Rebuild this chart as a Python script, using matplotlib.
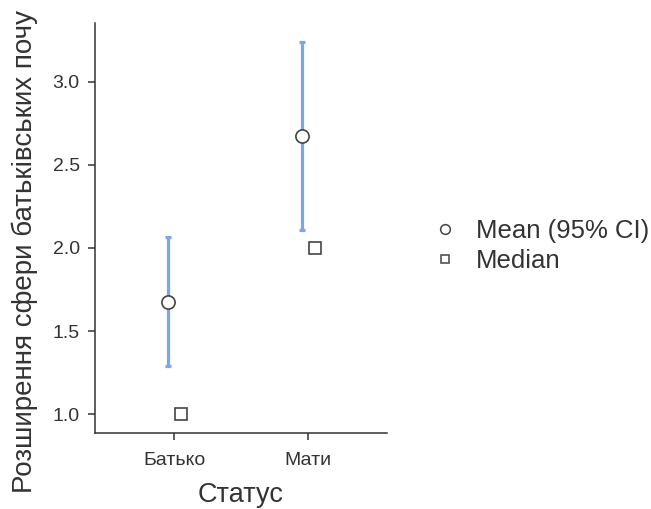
import numpy as np
from matplotlib import pyplot as plt
from matplotlib.lines import Line2D

plt.rcParams['font.family'] = ['Liberation Sans', 'DejaVu Sans']

# data
categories = ['Батько', 'Мати']
means = [1.675, 2.675]
ci_low = [1.29, 2.11]
ci_high = [2.065, 3.24]
medians = [1.0, 2.0]

y_label = 'Розширення сфери батьківських почу'
x_label = 'Статус'

TEXT_GREY = '#333333'
CI_BLUE = '#7AA6EE'

fig = plt.figure(figsize=(6.51, 5.09), dpi=100)
ax = fig.add_axes([95 / 651, 76 / 509, 292 / 651, 410 / 509])

x = np.arange(1, len(categories) + 1)
means = np.asarray(means)
yerr = np.vstack([means - np.asarray(ci_low), np.asarray(ci_high) - means])

ax.errorbar(x - 0.045, means, yerr=yerr, fmt='none', ecolor=CI_BLUE,
            elinewidth=2.3, capsize=2.5, capthick=2.3, zorder=2)
ax.plot(x - 0.045, means, linestyle='none', marker='o', markersize=9.5,
        markerfacecolor='white', markeredgecolor='#444444', markeredgewidth=1.2, zorder=3)
ax.plot(x + 0.05, medians, linestyle='none', marker='s', markersize=8,
        markerfacecolor='white', markeredgecolor='#444444', markeredgewidth=1.2, zorder=3)

ax.set_xlim(0.41, 2.59)
ax.set_ylim(0.887, 3.353)
ax.set_xticks(x)
ax.set_xticklabels(categories)
ax.set_yticks([1.0, 1.5, 2.0, 2.5, 3.0])
ax.set_yticklabels(['1.0', '1.5', '2.0', '2.5', '3.0'])

for side in ['top', 'right']:
    ax.spines[side].set_visible(False)
for side in ['left', 'bottom']:
    ax.spines[side].set_color(TEXT_GREY)
    ax.spines[side].set_linewidth(1.1)

ax.tick_params(axis='both', colors=TEXT_GREY, labelsize=14, width=1.1, length=5)
ax.tick_params(axis='y', pad=6)
ax.tick_params(axis='x', pad=9)

ax.set_xlabel(x_label, fontsize=19.5, color=TEXT_GREY, labelpad=9)
fig.text(25 / 651, 16 / 509, y_label, rotation=90, ha='center', va='bottom',
         fontsize=20, color=TEXT_GREY)

handles = [
    Line2D([], [], linestyle='none', marker='o', markersize=7, markerfacecolor='white',
           markeredgecolor='#444444', markeredgewidth=1.1, label='Mean (95% CI)'),
    Line2D([], [], linestyle='none', marker='s', markersize=6, markerfacecolor='white',
           markeredgecolor='#444444', markeredgewidth=1.1, label='Median'),
]
leg = fig.legend(handles=handles, loc='center left', bbox_to_anchor=(422 / 651, 1 - 246 / 509),
                 frameon=False, fontsize=18.5, handlelength=1.0, handletextpad=0.7,
                 labelspacing=0.2, borderaxespad=0)
for t in leg.get_texts():
    t.set_color(TEXT_GREY)

fig.savefig('out.png', dpi=100)
